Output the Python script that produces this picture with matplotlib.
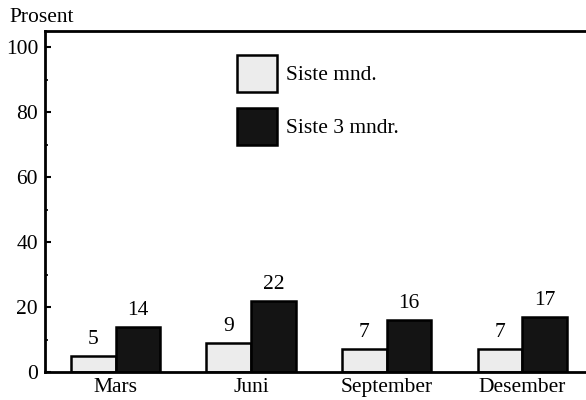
import matplotlib.pyplot as plt
import numpy as np
from matplotlib.patches import Patch
from matplotlib.ticker import MultipleLocator

# Data
months = ["Mars", "Juni", "September", "Desember"]
siste_mnd = [5, 9, 7, 7]
siste_3_mndr = [14, 22, 16, 17]

plt.rcParams['font.family'] = ['Liberation Serif', 'DejaVu Serif']
plt.rcParams['font.size'] = 15.5

fig = plt.figure(figsize=(5.86, 4.0), dpi=100)
ax = fig.add_axes([45 / 586, 28 / 400, 541 / 586, 341 / 400])

x = np.arange(len(months))
w = 0.33
light = "#ececec"
dark = "#141414"

b1 = ax.bar(x - w / 2, siste_mnd, w, color=light, edgecolor="black", linewidth=1.8)
b2 = ax.bar(x + w / 2, siste_3_mndr, w, color=dark, edgecolor="black", linewidth=1.8)

# value labels
for bars, vals in [(b1, siste_mnd), (b2, siste_3_mndr)]:
    for r, v in zip(bars, vals):
        ax.annotate(str(v), (r.get_x() + r.get_width() / 2, r.get_height()),
                    xytext=(0, 5), textcoords="offset points",
                    ha="center", va="bottom")

ax.set_xlim(-0.52, 3.47)
ax.set_ylim(0, 105)
ax.set_xticks(x)
ax.set_xticklabels(months)
ax.tick_params(axis="x", length=0, pad=4)
ax.set_yticks([0, 20, 40, 60, 80, 100])
ax.yaxis.set_minor_locator(MultipleLocator(10))
ax.tick_params(axis="y", which="major", direction="in", length=4, width=1.5, pad=5)
ax.tick_params(axis="y", which="minor", direction="in", length=2, width=1.2)

ax.spines["right"].set_visible(False)
for s in ["left", "top", "bottom"]:
    ax.spines[s].set_linewidth(2)

fig.text(9 / 586, 1 - 18 / 400, "Prosent", ha="left", va="center")

handles = [Patch(facecolor=light, edgecolor="black", linewidth=1.8),
           Patch(facecolor=dark, edgecolor="black", linewidth=1.8)]
ax.legend(handles, ["Siste mnd.", "Siste 3 mndr."], loc="upper left",
          bbox_to_anchor=((237 - 45) / 541, (372 - 55) / 341),
          frameon=False, borderpad=0, borderaxespad=0,
          handlelength=1.85, handleheight=2.3, handletextpad=0.42,
          labelspacing=0.72)

plt.savefig("out.png", dpi=100)
